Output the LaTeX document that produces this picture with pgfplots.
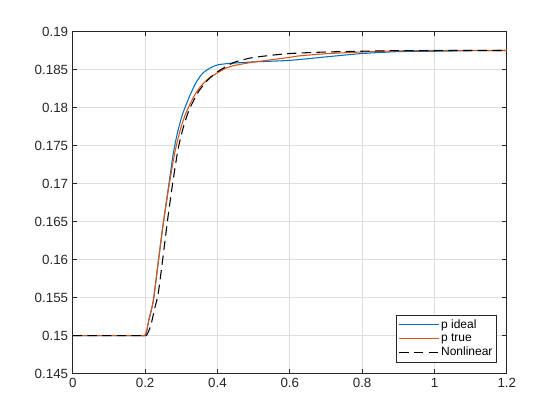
\documentclass[border=0pt]{standalone}
\usepackage{fontspec}
\setmainfont{Liberation Sans}
\usepackage{pgfplots}
\pgfplotsset{compat=1.18}
\definecolor{mblue}{rgb}{0,0.447,0.741}
\definecolor{morange}{rgb}{0.85,0.325,0.098}
\definecolor{axgray}{rgb}{0.15,0.15,0.15}
\definecolor{gridc}{rgb}{0.87,0.87,0.87}
\begin{document}
\begin{tikzpicture}
\begin{axis}[name=ax, scale only axis, width=325.5pt, height=256.7pt,
  xmin=0, xmax=1.2, ymin=0.145, ymax=0.19,
  xtick={0,0.2,0.4,0.6,0.8,1,1.2},
  ytick={0.145,0.15,0.155,0.16,0.165,0.17,0.175,0.18,0.185,0.19},
  grid=major, major grid style={gridc, line width=0.5pt},
  axis line style={axgray, line width=0.6pt},
  tick style={axgray, line width=0.6pt},
  tick align=inside, major tick length=3.3pt,
  tick pos=both,
  /pgf/number format/assume math mode=true,
  tick label style={font=\fontsize{10}{12}\selectfont, text=axgray},
  scaled y ticks=false, scaled x ticks=false,
  yticklabel style={/pgf/number format/fixed, /pgf/number format/precision=3},
  xticklabel style={/pgf/number format/fixed, /pgf/number format/precision=1},
  legend cell align=left,
  legend image code/.code={\draw[#1, sharp plot] (0pt,0pt) -- (30pt,0pt);},
  legend style={at={(1,0)}, anchor=south east, xshift=-7.5pt, yshift=8.6pt,
    draw=axgray, line width=0.5pt, fill=white,
    font=\fontsize{9}{10}\selectfont, inner sep=2pt, row sep=0pt,
    nodes={inner sep=1pt, text height=6.5pt, text depth=1.8pt}},
]
\addplot[mblue, line width=0.8pt, smooth, tension=0.4] coordinates {
(0,0.15) (0.1,0.15) (0.19,0.15) (0.2,0.15) (0.205,0.1507) (0.21,0.152) (0.2226,0.1546) (0.236,0.1596)
(0.250,0.1647) (0.265,0.1697) (0.278,0.1740) (0.29,0.1768) (0.304,0.1792)
(0.323,0.1815) (0.341,0.1833) (0.359,0.1845) (0.38,0.1852) (0.4,0.1856)
(0.433,0.1858) (0.5,0.1860) (0.6,0.1862) (0.709,0.1867) (0.8,0.1871)
(0.9,0.18735) (1.0,0.1874) (1.1,0.18747) (1.2,0.1875)};
\addlegendentry{p ideal}
\addplot[morange, line width=0.8pt, smooth, tension=0.4] coordinates {
(0,0.15) (0.1,0.15) (0.19,0.15) (0.195,0.15) (0.2,0.1501) (0.205,0.1508) (0.21,0.1520) (0.2226,0.1546)
(0.236,0.1596) (0.250,0.1647) (0.266,0.1697) (0.2826,0.1742) (0.298,0.1772)
(0.313,0.1793) (0.333,0.1813) (0.352,0.1827) (0.375,0.1838) (0.398,0.1845)
(0.42,0.1851) (0.444,0.1855) (0.49,0.1859) (0.536,0.1862) (0.6,0.1866)
(0.628,0.1868) (0.709,0.1871) (0.8,0.1873) (0.9,0.18745) (1.0,0.1875) (1.2,0.1875)};
\addlegendentry{p true}
\addplot[black, line width=0.8pt, dash pattern=on 7pt off 4pt, smooth, tension=0.4] coordinates {
(0,0.15) (0.1,0.15) (0.195,0.15) (0.203,0.15) (0.2116,0.1508) (0.218,0.1518) (0.226,0.1535) (0.236,0.1555)
(0.249,0.1602) (0.262,0.1652) (0.276,0.1700) (0.291,0.1745) (0.305,0.1773)
(0.32,0.1795) (0.338,0.1813) (0.352,0.1824) (0.375,0.1837) (0.4,0.1847)
(0.444,0.1859) (0.49,0.1865) (0.536,0.1868) (0.6,0.1871) (0.7,0.1873)
(0.8,0.1874) (0.9,0.18748) (1.2,0.1875)};
\addlegendentry{Nonlinear}
\end{axis}
\path[use as bounding box] ([shift={(-54.6pt,-34.65pt)}]ax.south west) rectangle ([shift={(39.9pt,23.6pt)}]ax.north east);
\end{tikzpicture}
\end{document}
